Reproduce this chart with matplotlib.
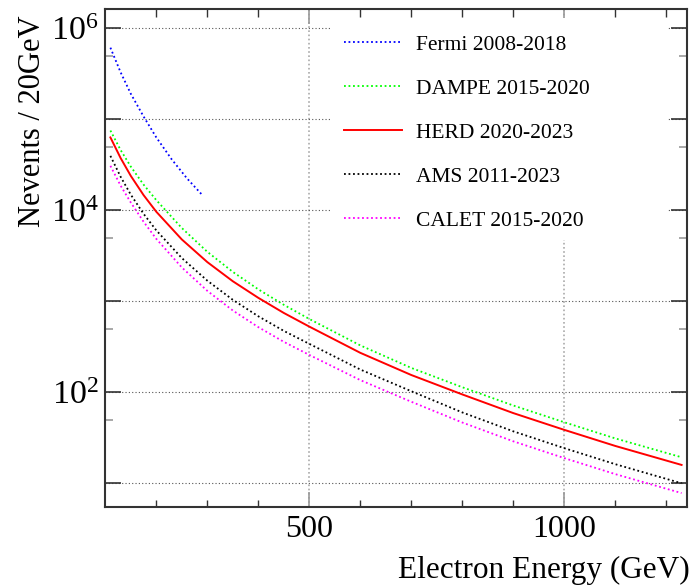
import numpy as np
import matplotlib.pyplot as plt
from matplotlib.patches import Rectangle
from matplotlib.ticker import NullFormatter

plt.rcParams['font.family'] = ['Liberation Serif', 'DejaVu Serif']
plt.rcParams['mathtext.fontset'] = 'custom'
plt.rcParams['mathtext.rm'] = 'Liberation Serif'
plt.rcParams['mathtext.it'] = 'Liberation Serif:italic'

# expected electron counts per 20 GeV bin
e_fermi = [110, 130, 150, 175, 200, 230, 260, 290]
n_fermi = [6.1e5, 3.27e5, 1.9e5, 1.07e5, 6.3e4, 3.63e4, 2.24e4, 1.47e4]

energy = [110, 130, 150, 175, 200, 250, 300, 350, 400, 450, 500,
          600, 700, 800, 900, 1000, 1100, 1230]
n_dampe = [75000, 45800, 30100, 19100, 12900, 6370, 3490, 2100, 1350, 913, 638,
           327, 185, 113.5, 71.5, 46.8, 31.1, 19.3]
n_herd = [63000, 37400, 23800, 14650, 9610, 4770, 2690, 1657, 1089, 743, 526,
          271, 154.6, 94.6, 59.0, 38.6, 25.7, 15.9]
n_ams = [39500, 23300, 14800, 9130, 6000, 2980, 1682, 1036, 683, 472, 340,
         177.6, 102.6, 60.0, 37.2, 24.3, 16.2, 10.0]
n_calet = [30700, 18600, 12130, 7470, 4840, 2350, 1300, 791, 519, 358, 257,
           135.9, 78.6, 46.5, 28.9, 18.9, 12.6, 7.8]

fig = plt.figure(figsize=(6.96, 5.88), dpi=100)
ax = fig.add_axes([0.1513, 0.1383, 0.8353, 0.8459])
ax.set_yscale('log')

dot = (0, (1, 1.5))
ax.plot(e_fermi, n_fermi, color='#0000ff', ls=dot, lw=1.3, label='Fermi 2008-2018')
ax.plot(energy, n_dampe, color='#00ff00', ls=dot, lw=1.3, label='DAMPE 2015-2020')
ax.plot(energy, n_herd, color='#ff0000', lw=1.4, label='HERD 2020-2023')
ax.plot(energy, n_ams, color='#000000', ls=dot, lw=1.3, label='AMS 2011-2023')
ax.plot(energy, n_calet, color='#ff00ff', ls=dot, lw=1.3, label='CALET 2015-2020')

ax.set_xlim(100, 1240)
ax.set_ylim(5.53, 1.61e6)

ax.set_xticks([500, 1000])
ax.set_xticklabels(['500', '1000'])
ax.set_xticks([200, 300, 400, 600, 700, 800, 900, 1100, 1200], minor=True)
ax.set_yticks([1e1, 1e2, 1e3, 1e4, 1e5, 1e6])
ax.set_yticklabels(['', '$10^{2}$', '', '$10^{4}$', '', '$10^{6}$'])
ax.set_yticks([5e1, 5e2, 5e3, 5e4, 5e5], minor=True)
ax.yaxis.set_minor_formatter(NullFormatter())

ax.tick_params(axis='x', which='major', direction='in', length=10.8, width=1.2,
               color='#999999', top=True, labelsize=23, pad=6)
ax.tick_params(axis='x', which='minor', direction='in', length=5.4, width=1.0,
               color='#333333', top=True)
ax.tick_params(axis='y', which='major', direction='in', length=11.5, width=1.2,
               color='#333333', right=True, labelsize=24.5, pad=5)
ax.tick_params(axis='y', which='minor', direction='in', length=5.8, width=1.2,
               color='#999999', right=True)

ax.yaxis.grid(True, which='major', color='#555555', ls=(0, (1, 2)), lw=0.8)
ax.xaxis.grid(True, which='major', color='#aaaaaa', ls=(0, (1, 1.5)), lw=1.2)

for sp in ax.spines.values():
    sp.set_linewidth(1.5)
    sp.set_color('#333333')

# white pad behind the legend hides the grid
ax.add_patch(Rectangle((0.39, 0.536), 0.578, 0.4465, transform=ax.transAxes,
                       facecolor='white', edgecolor='none', zorder=1.8))
ax.legend(loc='upper left', bbox_to_anchor=(0.4106, 0.9484), frameon=False,
          fontsize=15.5, handlelength=2.7, handletextpad=0.65, labelspacing=1.11,
          borderpad=0, borderaxespad=0)

ax.set_xlabel('Electron Energy (GeV)', fontsize=22.5, loc='right')
ax.xaxis.set_label_coords(1.0057, -0.099)
ax.set_ylabel('Nevents / 20GeV', fontsize=22, loc='top')
ax.yaxis.set_label_coords(-0.1, 0.9885)

fig.savefig('out.png', dpi=100)
